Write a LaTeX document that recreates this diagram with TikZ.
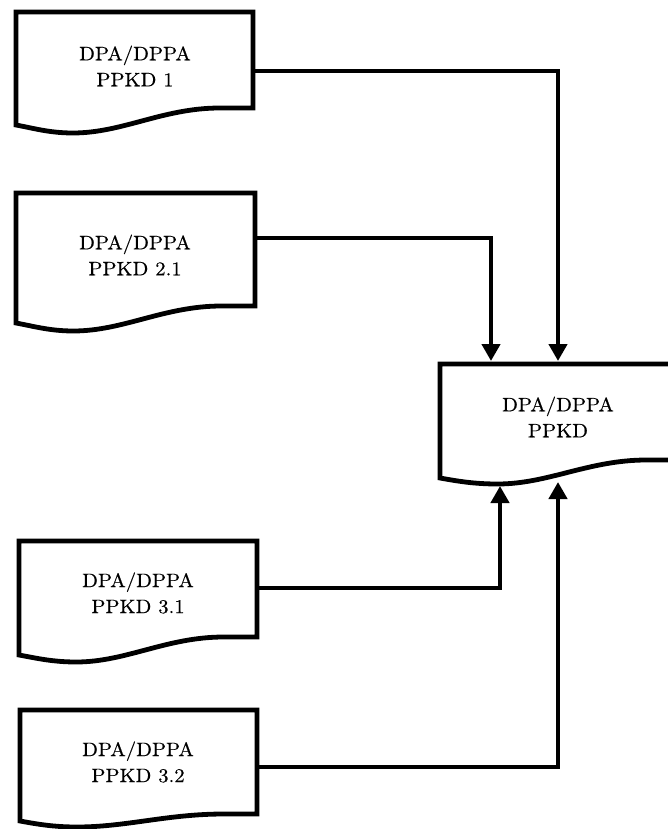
\documentclass[tikz,border=0pt]{standalone}
\usetikzlibrary{arrows.meta}
\font\lblfont="[lmroman10-regular.otf]:extend=1.06;embolden=0.4" at 19.5pt
\newcommand{\lblset}{\lblfont\baselineskip=26pt\relax}
\tikzset{
  docline/.style={line width=4.8pt, line join=miter, draw=black, fill=white},
  conn/.style={line width=4.7pt, line join=miter, -{Triangle[length=17pt,width=18pt]}},
  lbl/.style={align=center, font=\lblset, inner sep=0pt}
}
% #1 x0, #2 x1, #3 yT, #4 yR, #5 yL, #6 yM
\newcommand{\docshape}[6]{%
  \draw[docline] (#1,#3) -- (#2,#3) -- (#2,#4)
    -- ({#1+0.86*(#2-#1)},#4)
    .. controls ({#1+0.62*(#2-#1)},#4) and ({#1+0.45*(#2-#1)},#6) .. ({#1+0.24*(#2-#1)},#6)
    .. controls ({#1+0.14*(#2-#1)},#6) and ({#1+0.07*(#2-#1)},{#5+3}) .. (#1,#5)
    -- cycle;}
\begin{document}
\begin{tikzpicture}[x=1pt,y=-1pt]
\useasboundingbox (0,0) rectangle (668,829);
\clip (0,0) rectangle (668,829);
\fill[white] (0,0) rectangle (668,829);

% shapes
\docshape{16}{253}{12}{108}{125}{133}
\docshape{16}{255}{193}{306}{323}{331}
\docshape{19}{257}{541}{637}{655}{662}
\docshape{20}{257}{710}{814}{821}{827}
\docshape{440}{680}{364}{460}{478}{484}

% labels
\node[lbl] (d1) at (135,66) {DPA/DPPA\\PPKD 1};
\node[lbl] (d21) at (135,255) {DPA/DPPA\\PPKD 2.1};
\node[lbl] (d31) at (138,593) {DPA/DPPA\\PPKD 3.1};
\node[lbl] (d32) at (138,762) {DPA/DPPA\\PPKD 3.2};
\node[lbl] (dm) at (558,417) {DPA/DPPA\\PPKD};

% connector anchors
\coordinate (o1) at (253,71);
\coordinate (o21) at (255,238);
\coordinate (o31) at (257,588);
\coordinate (o32) at (257,767);
\coordinate (c1) at (558,71);
\coordinate (c21) at (491,238);
\coordinate (c31) at (500,588);
\coordinate (c32) at (558,767);
\coordinate (t1) at (558,361);
\coordinate (t21) at (491,361);
\coordinate (t31) at (500,486);
\coordinate (t32) at (558,482);

\draw[conn] (o1) -- (c1) -- (t1);
\draw[conn] (o21) -- (c21) -- (t21);
\draw[conn] (o31) -- (c31) -- (t31);
\draw[conn] (o32) -- (c32) -- (t32);
\end{tikzpicture}
\end{document}
